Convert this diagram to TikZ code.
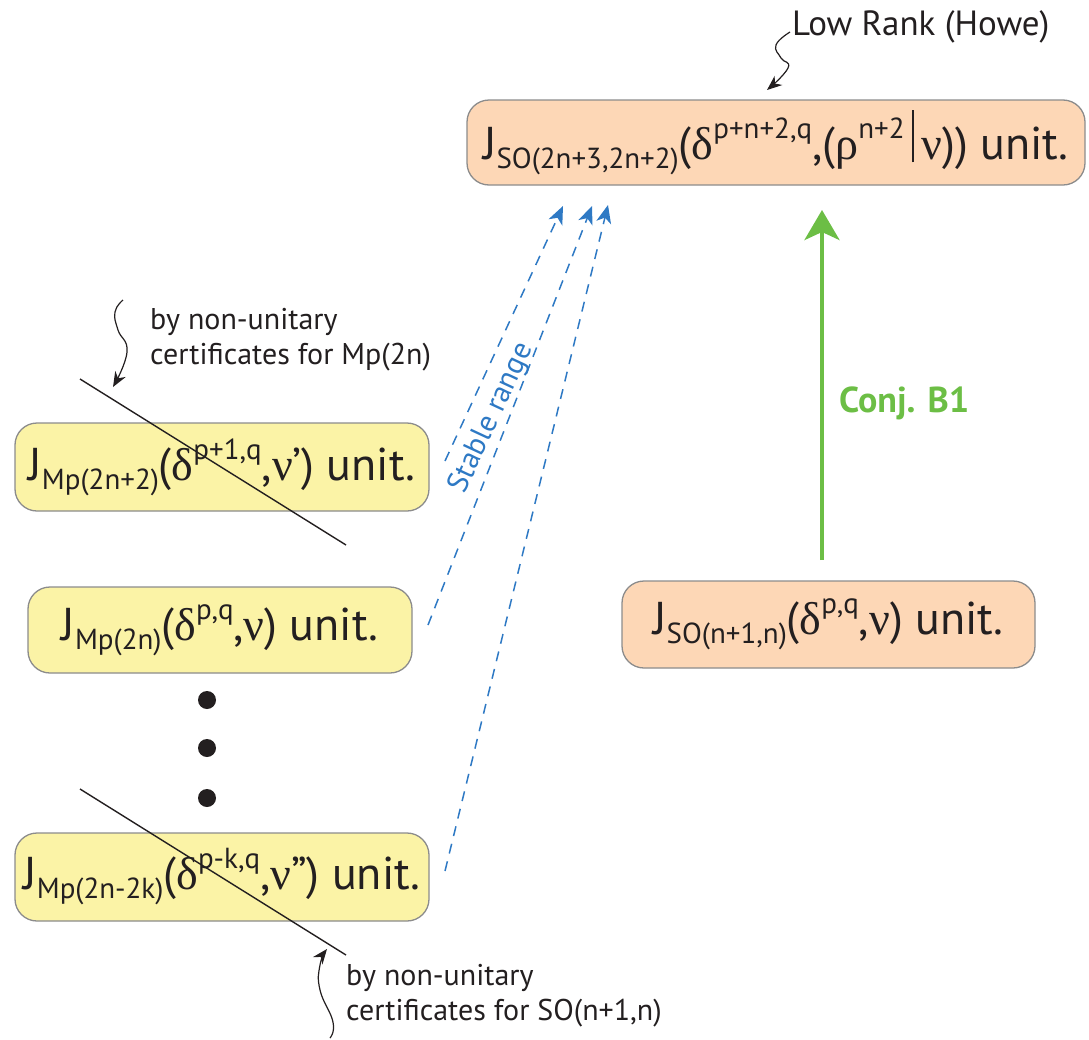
\documentclass[tikz,border=0pt]{standalone}
\usepackage{fontspec}
\setmainfont{PT Sans}
\newfontfamily\gkfont{Liberation Serif}
\usetikzlibrary{arrows.meta}

\definecolor{peach}{RGB}{253,215,182}
\definecolor{lemon}{RGB}{251,243,166}
\definecolor{boxline}{RGB}{140,140,140}
\definecolor{rangeblue}{RGB}{46,121,196}
\definecolor{conjgreen}{RGB}{108,190,69}
\definecolor{ink}{RGB}{35,31,32}

% Greek letters, sub- and superscripts inside the representation labels
\newcommand\gk[1]{{\gkfont #1}}
\newcommand\lowidx[1]{\raisebox{-9pt}{\fontsize{29pt}{32pt}\selectfont #1}}
\newcommand\upidx[1]{\raisebox{21pt}{\fontsize{29pt}{32pt}\selectfont #1}}

\tikzset{
  repbox/.style={draw=boxline, line width=1.3pt, rounded corners=22pt,
    inner sep=0pt, text=ink, font=\fontsize{46pt}{52pt}\selectfont},
  orbox/.style={repbox, fill=peach},
  mpbox/.style={repbox, fill=lemon},
  strike/.style={ink, line width=1.4pt},
  wiggle/.style={ink, line width=1.2pt, -{Stealth[length=15pt,width=12pt]}},
  stable/.style={rangeblue, line width=1.5pt, dash pattern=on 10pt off 8pt,
    -{Stealth[length=18pt,width=15pt,inset=5pt]}},
  note/.style={text=ink, font=\fontsize{30pt}{35pt}\selectfont, align=left,
    inner sep=0pt, anchor=north west},
  bigdot/.style={circle, fill=ink, inner sep=0pt, minimum size=18pt}
}

\begin{document}
\begin{tikzpicture}[x=1pt,y=-1pt]
\useasboundingbox (0,0) rectangle (1089,1039);

% representation boxes
\node[orbox, minimum width=618pt, minimum height=85pt] (top) at (776,142.5)
  {J\lowidx{SO(2n+3,2n+2)}(\gk{δ}\upidx{p+n+2,q},(\gk{ρ}\upidx{n+2}\,\rule[-3pt]{1.6pt}{52pt}\,\gk{ν})) unit.};
\node[orbox, minimum width=413pt, minimum height=87pt] (so) at (828.5,624.5)
  {J\lowidx{SO(n+1,n)}(\gk{δ}\upidx{p,q},\gk{ν}) unit.};
\node[mpbox, minimum width=414pt, minimum height=88pt] (mpa) at (222,467)
  {J\lowidx{Mp(2n+2)}(\gk{δ}\upidx{p+1,q},\gk{ν}’) unit.};
\node[mpbox, minimum width=384pt, minimum height=86pt] (mpb) at (220,630)
  {J\lowidx{Mp(2n)}(\gk{δ}\upidx{p,q},\gk{ν}) unit.};
\node[mpbox, minimum width=414pt, minimum height=88pt] (mpk) at (222,877)
  {J\lowidx{Mp(2n-2k)}(\gk{δ}\upidx{p-k,q},\gk{ν}”) unit.};

% vertical ellipsis
\node[bigdot] (d1) at (207,700) {};
\node[bigdot] (d2) at (207,748) {};
\node[bigdot] (d3) at (207,798) {};

% strike-through lines
\coordinate (sa1) at (80,379);
\coordinate (sa2) at (346,545);
\coordinate (sk1) at (80,789);
\coordinate (sk2) at (346,955);
\draw[strike] (sa1) -- (sa2);
\draw[strike] (sk1) -- (sk2);

% stable range arrows
\coordinate (r1) at (445,461);
\coordinate (r2) at (428,625);
\coordinate (r3) at (445,871);
\coordinate (t1) at (563,206);
\coordinate (t2) at (592,206);
\coordinate (t3) at (608,205);
\draw[stable] (r1) -- (t1);
\draw[stable] (r2) -- (t2);
\draw[stable] (r3) -- (t3);
\node[rangeblue, font=\fontsize{30pt}{32pt}\selectfont, rotate=65, inner sep=0pt] (rng) at (492,418) {Stable range};

% conjecture arrow
\coordinate (c1) at (822,560);
\coordinate (c2) at (822,210);
\draw[conjgreen, line width=4pt, -{Stealth[length=30pt,width=35pt,inset=8pt]}] (c1) -- (c2);
\node[conjgreen, font=\fontsize{36pt}{40pt}\selectfont\bfseries, anchor=base west, inner sep=0pt] (conj) at (839,412) {Conj. B1};

% annotations
\node[text=ink, font=\fontsize{35pt}{40pt}\selectfont, anchor=base west, inner sep=0pt] (lr) at (792,35) {Low Rank (Howe)};
\node[note] (na) at (150,308) {by non-unitary\\certificates for Mp(2n)};
\node[note] (nk) at (346,964) {by non-unitary\\certificates for SO(n+1,n)};

\draw[wiggle] plot[smooth, tension=0.8] coordinates {(790,32) (776,45) (781,58) (788,68) (767,90)};
\draw[wiggle] plot[smooth, tension=0.8] coordinates {(123,300) (115,312) (118,330) (127,352) (113,387)};
\draw[wiggle] plot[smooth, tension=0.8] coordinates {(330,1038) (333,1022) (320,990) (320,965) (327,949)};
\end{tikzpicture}
\end{document}
